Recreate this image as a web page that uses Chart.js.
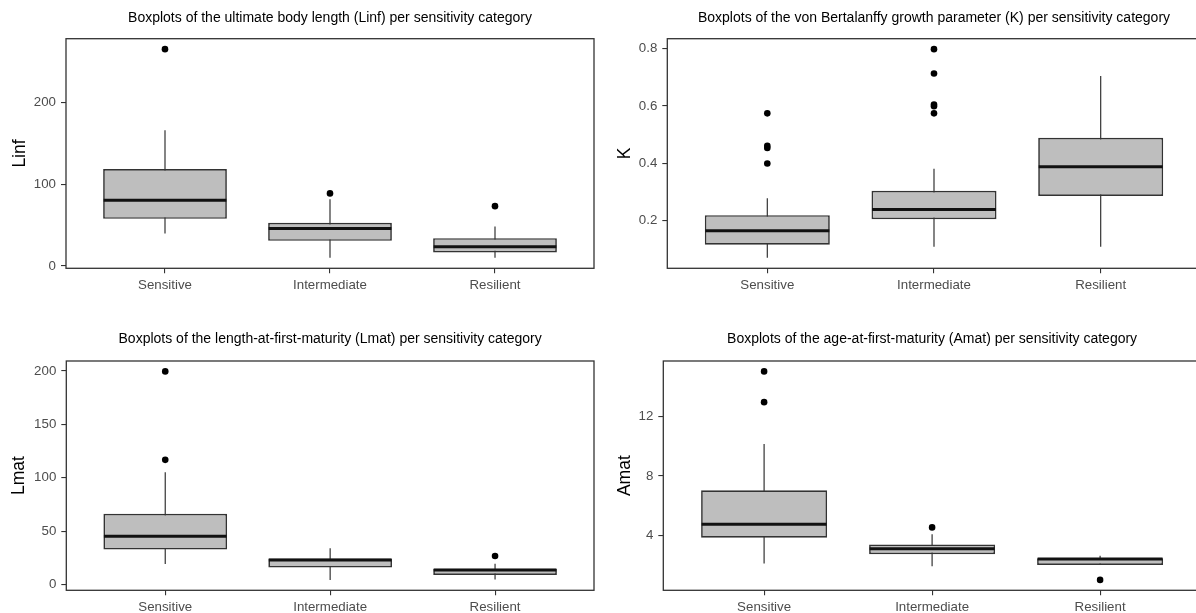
<!DOCTYPE html>
<html>
<head>
<meta charset="utf-8">
<script src="https://cdn.jsdelivr.net/npm/chart.js@4.4.1/dist/chart.umd.min.js"></script>
<style>
html, body { margin: 0; padding: 0; background: #ffffff; overflow: hidden; width: 1196px; height: 613px; }
canvas { position: absolute; }
</style>
</head>
<body>
<canvas id="cLinf" width="598" height="310" style="left:0px;top:0px;"></canvas>
<canvas id="cK" width="612" height="310" style="left:598px;top:0px;"></canvas>
<canvas id="cLmat" width="598" height="322" style="left:0px;top:310px;"></canvas>
<canvas id="cAmat" width="612" height="322" style="left:598px;top:310px;"></canvas>
<script>
// ---------------- data ----------------
const categories = ['Sensitive', 'Intermediate', 'Resilient'];

const linfLow = [39.6, 9.8, 9.8];
const linfQ1 = [57.5, 30.6, 16.4];
const linfMedian = [80.3, 45.7, 23.3];
const linfQ3 = [118.5, 52.6, 33.9];
const linfHigh = [165.8, 81.6, 48.2];
const linfOutliers = [[265], [88.6], [73]];
const linfTicks = [0, 100, 200];

const kLow = [0.070, 0.109, 0.109];
const kQ1 = [0.116, 0.205, 0.286];
const kMedian = [0.165, 0.239, 0.388];
const kQ3 = [0.219, 0.304, 0.489];
const kHigh = [0.278, 0.381, 0.704];
const kOutliers = [[0.574, 0.461, 0.453, 0.399], [0.798, 0.713, 0.605, 0.599, 0.574], []];
const kTicks = [0.2, 0.4, 0.6, 0.8];

const lmatLow = [19.3, 4.5, 4.9];
const lmatQ1 = [32.8, 16.0, 9.0];
const lmatMedian = [45.4, 23.0, 13.7];
const lmatQ3 = [66.4, 24.4, 14.8];
const lmatHigh = [105.2, 34.0, 19.7];
const lmatOutliers = [[199.5, 116.8], [], [26.8]];
const lmatTicks = [0, 50, 100, 150, 200];

const amatLow = [2.07, 1.89, 1.98];
const amatQ1 = [3.82, 2.70, 1.98];
const amatMedian = [4.74, 3.08, 2.38];
const amatQ3 = [7.03, 3.37, 2.44];
const amatHigh = [10.16, 4.05, 2.60];
const amatOutliers = [[15.07, 12.99], [4.52], [0.97]];
const amatTicks = [4, 8, 12];

// ---------------- drawing ----------------
Chart.defaults.font.family = '"Liberation Sans", Arial, sans-serif';

function boxPlugin(low, high, median) {
  return {
    id: 'boxparts',
    beforeDatasetsDraw(chart) {
      const xs = chart.scales.x, ys = chart.scales.y, ctx = chart.ctx;
      ctx.save();
      ctx.strokeStyle = '#333333';
      ctx.lineWidth = 1.2;
      for (let i = 0; i < categories.length; i++) {
        const x = xs.getPixelForValue(i + 1);
        ctx.beginPath();
        ctx.moveTo(x, ys.getPixelForValue(low[i]));
        ctx.lineTo(x, ys.getPixelForValue(high[i]));
        ctx.stroke();
      }
      ctx.restore();
    },
    afterDatasetsDraw(chart) {
      const ys = chart.scales.y, ctx = chart.ctx;
      const meta = chart.getDatasetMeta(0);
      ctx.save();
      ctx.strokeStyle = '#111111';
      ctx.lineWidth = 3;
      meta.data.forEach((bar, i) => {
        const y = ys.getPixelForValue(median[i]);
        ctx.beginPath();
        ctx.moveTo(bar.x - bar.width / 2 + 0.5, y);
        ctx.lineTo(bar.x + bar.width / 2 - 0.5, y);
        ctx.stroke();
      });
      ctx.restore();
    },
    afterDraw(chart) {
      const a = chart.chartArea, ctx = chart.ctx;
      ctx.save();
      ctx.strokeStyle = '#333333';
      ctx.lineWidth = 1.3;
      ctx.strokeRect(a.left, a.top, a.right - a.left, a.bottom - a.top);
      ctx.restore();
    }
  };
}

function makePanel(id, p) {
  const all = [].concat(p.low, p.high, p.q1, p.q3, p.median, ...p.outliers);
  const mn = Math.min(...all), mx = Math.max(...all), r = mx - mn;
  const boxData = categories.map((c, i) => ({ x: i + 1, y: [p.q1[i], p.q3[i]] }));
  const outData = [];
  categories.forEach((c, i) => p.outliers[i].forEach(v => outData.push({ x: i + 1, y: v })));

  new Chart(document.getElementById(id), {
    type: 'bar',
    data: {
      datasets: [
        {
          type: 'bar',
          data: boxData,
          backgroundColor: '#bebebe',
          borderColor: '#333333',
          borderWidth: 1.7,
          borderSkipped: false,
          barPercentage: 0.75,
          categoryPercentage: 1.0
        },
        {
          type: 'scatter',
          data: outData,
          backgroundColor: '#000000',
          borderColor: '#000000',
          pointRadius: 3.3,
          pointBorderWidth: 0,
          showLine: false
        }
      ]
    },
    options: {
      responsive: false,
      animation: false,
      events: [],
      layout: { padding: { left: 0, top: 0, right: p.padRight, bottom: 0 } },
      plugins: {
        legend: { display: false },
        tooltip: { enabled: false },
        title: {
          display: true,
          text: p.title,
          fullSize: false,
          color: '#000000',
          font: { size: 14, weight: 'normal' },
          padding: { top: p.titleTop, bottom: p.titleBottom }
        }
      },
      scales: {
        x: {
          type: 'linear',
          min: 0.4,
          max: 3.6,
          offset: false,
          afterBuildTicks: s => { s.ticks = categories.map((c, i) => ({ value: i + 1 })); },
          afterFit: s => { s.height = 41.7; },
          ticks: {
            autoSkip: false,
            maxRotation: 0,
            padding: 4,
            color: '#4d4d4d',
            font: { size: 13.3 },
            callback: v => categories[Math.round(v) - 1]
          },
          grid: { display: true, drawOnChartArea: false, drawTicks: true, tickLength: 5, color: '#333333', lineWidth: 1.1, offset: false },
          border: { display: false }
        },
        y: {
          type: 'linear',
          min: mn - 0.05 * r,
          max: mx + 0.05 * r,
          afterBuildTicks: s => { s.ticks = p.ticks.map(v => ({ value: v })); },
          afterFit: s => { s.width = p.yWidth; },
          ticks: {
            padding: 5,
            color: '#4d4d4d',
            font: { size: 13.3 },
            callback: v => String(v)
          },
          grid: { display: true, drawOnChartArea: false, drawTicks: true, tickLength: 5, color: '#333333', lineWidth: 1.1 },
          border: { display: false },
          title: {
            display: true,
            text: p.yLabel,
            color: '#000000',
            font: { size: 17.5 },
            padding: { top: p.yTitlePad, bottom: 0 }
          }
        }
      }
    },
    plugins: [boxPlugin(p.low, p.high, p.median)]
  });
}

makePanel('cLinf', {
  title: 'Boxplots of the ultimate body length (Linf) per sensitivity category',
  yLabel: 'Linf', low: linfLow, q1: linfQ1, median: linfMedian, q3: linfQ3, high: linfHigh,
  outliers: linfOutliers, ticks: linfTicks,
  yWidth: 66, padRight: 2, titleTop: 9.4, titleBottom: 12.5, yTitlePad: 9.9
});
makePanel('cK', {
  title: 'Boxplots of the von Bertalanffy growth parameter (K) per sensitivity category',
  yLabel: 'K', low: kLow, q1: kQ1, median: kMedian, q3: kQ3, high: kHigh,
  outliers: kOutliers, ticks: kTicks,
  yWidth: 69.3, padRight: 9.3, titleTop: 9.4, titleBottom: 12.5, yTitlePad: 16.7
});
makePanel('cLmat', {
  title: 'Boxplots of the length-at-first-maturity (Lmat) per sensitivity category',
  yLabel: 'Lmat', low: lmatLow, q1: lmatQ1, median: lmatMedian, q3: lmatQ3, high: lmatHigh,
  outliers: lmatOutliers, ticks: lmatTicks,
  yWidth: 66.3, padRight: 2, titleTop: 21.2, titleBottom: 13, yTitlePad: 8.4
});
makePanel('cAmat', {
  title: 'Boxplots of the age-at-first-maturity (Amat) per sensitivity category',
  yLabel: 'Amat', low: amatLow, q1: amatQ1, median: amatMedian, q3: amatQ3, high: amatHigh,
  outliers: amatOutliers, ticks: amatTicks,
  yWidth: 65.3, padRight: 9.1, titleTop: 21.2, titleBottom: 13, yTitlePad: 17.1
});
</script>
</body>
</html>
